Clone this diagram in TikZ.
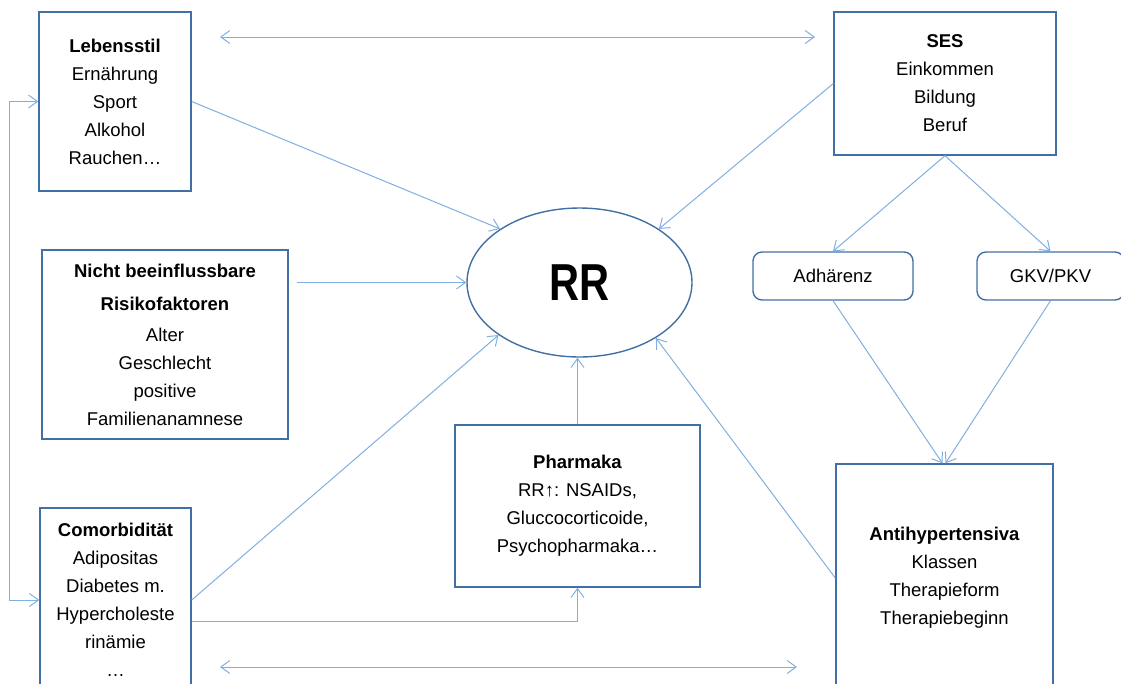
\documentclass[tikz,border=0pt]{standalone}
\usepackage{fontspec}
\setmainfont{Liberation Sans}
\usepackage{graphicx}
\usetikzlibrary{arrows.meta,shapes.geometric}
\definecolor{boxline}{RGB}{66,112,164}
\definecolor{connline}{RGB}{128,175,225}
\tikzset{
  box/.style={draw=boxline,line width=1.4pt,align=center,inner sep=0pt,font=\fontsize{18.5}{28}\selectfont},
  rbox/.style={box,rounded corners=9pt},
  conn/.style={draw=connline,line width=1pt,-{Straight Barb[length=9pt,width=13pt]}},
  both/.style={conn,{Straight Barb[length=9pt,width=13pt]}-{Straight Barb[length=9pt,width=13pt]}},
}

\begin{document}
\begin{tikzpicture}[x=1pt,y=-1pt]
  \path[use as bounding box,clip] (0,0) rectangle (1121,683);
  % boxes
  \node[box,minimum width=152pt,minimum height=179pt] (leb) at (115,101.5)
    {\textbf{Lebensstil}\\Ernährung\\Sport\\Alkohol\\Rauchen…};
  \node[box,minimum width=222pt,minimum height=143pt] (ses) at (945,83.5)
    {\textbf{SES}\\Einkommen\\Bildung\\Beruf};
  \node[box,minimum width=246pt,minimum height=189pt] (nicht) at (165,344.5)
    {\textbf{Nicht beeinflussbare}\\[5pt]\textbf{Risikofaktoren}\\[3pt]Alter\\Geschlecht\\positive\\Familienanamnese};
  \node[box,ellipse,minimum width=225pt,minimum height=149pt] (rr) at (579.5,282.5)
    {\fontsize{52}{56}\selectfont\bfseries\scalebox{0.8}[1]{RR}};
  \node[rbox,minimum width=160pt,minimum height=48pt] (adh) at (833,276) {Adhärenz};
  \node[rbox,minimum width=147pt,minimum height=48pt] (gkv) at (1050.5,276) {GKV/PKV};
  \node[box,minimum width=245pt,minimum height=162pt] (pharm) at (577.5,506)
    {\textbf{Pharmaka}\\RR↑: NSAIDs,\\Gluccocorticoide,\\Psychopharmaka…};
  \node[box,minimum width=217pt,minimum height=228pt] (anti) at (944.5,578)
    {\textbf{Antihypertensiva}\\Klassen\\Therapieform\\Therapiebeginn};
  \node[box,minimum width=151pt,minimum height=184pt] (como) at (115.5,600)
    {\textbf{Comorbidität}\\Adipositas\\Diabetes m.\\Hypercholeste\\rinämie\\…};
  % free ends of the long double arrows
  \coordinate (topL) at (220,37);
  \coordinate (topR) at (815,37);
  \coordinate (botL) at (220,667);
  \coordinate (botR) at (797,667);
  % connectors
  \draw[both] (topL) -- (topR);
  \draw[both] (botL) -- (botR);
  \draw[both] (leb.west) -- ++(-29,0) |- (como.west);
  \draw[conn] (leb.east) -- (rr.146);
  \draw[conn] (ses.west) -- (rr.34);
  \draw[conn] ([xshift=8pt]nicht.east |- rr.west) -- (rr.west);
  \draw[conn] (como.east) -- (rr.213);
  \draw[conn] ([yshift=-21pt]como.east) -| (pharm.south);
  \draw[conn] (pharm.north) -- (pharm.north |- rr.south);
  \draw[conn] (anti.west) -- (rr.-36);
  \draw[conn] (ses.south) -- (adh.north);
  \draw[conn] (ses.south) -- (gkv.north);
  \draw[conn] (adh.south) -- ([xshift=-2pt]anti.north);
  \draw[conn] (gkv.south) -- ([xshift=1pt]anti.north);
\end{tikzpicture}
\end{document}
